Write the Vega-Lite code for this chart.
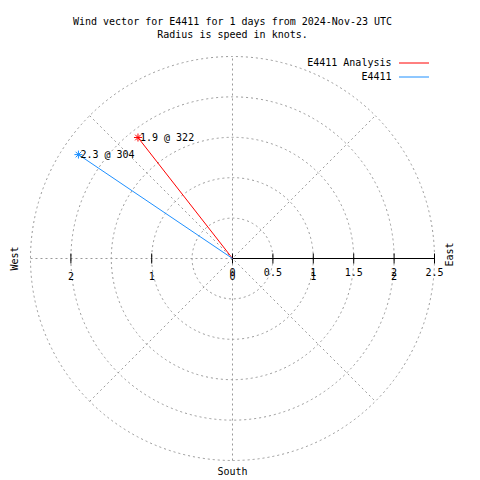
{
  "$schema": "https://vega.github.io/schema/vega-lite/v6.json",
  "width": 404,
  "height": 404,
  "autosize": {"type": "none"},
  "padding": {"left": 30.5, "top": 56.5, "right": 45.5, "bottom": 19.5},
  "background": "white",
  "config": {
    "view": {"stroke": null},
    "font": "DejaVu Sans Mono",
    "text": {"font": "DejaVu Sans Mono", "fontSize": 10, "color": "black"}
  },
  "title": {
    "text": ["Wind vector for E4411 for 1 days from 2024-Nov-23 UTC", "Radius is speed in knots."],
    "anchor": "middle",
    "frame": "group",
    "font": "DejaVu Sans Mono",
    "fontSize": 10,
    "fontWeight": "normal",
    "color": "black",
    "lineHeight": 13,
    "offset": 15
  },
  "datasets": {
    "rings": [{"r": 0.5}, {"r": 1}, {"r": 1.5}, {"r": 2}, {"r": 2.5}],
    "spokes": [
      {"xa": 0, "ya": -2.5, "xb": 0, "yb": 2.5},
      {"xa": -2.5, "ya": 0, "xb": 2.5, "yb": 0},
      {"xa": -1.7678, "ya": -1.7678, "xb": 1.7678, "yb": 1.7678},
      {"xa": -1.7678, "ya": 1.7678, "xb": 1.7678, "yb": -1.7678}
    ],
    "axisline": [{"xa": 0, "ya": 0, "xb": 2.5, "yb": 0}],
    "ticks": [{"v": -2}, {"v": -1}, {"v": 0}, {"v": 0.5}, {"v": 1}, {"v": 1.5}, {"v": 2}, {"v": 2.5}],
    "labelsA": [
      {"v": 0, "t": "0"}, {"v": 0.5, "t": "0.5"}, {"v": 1, "t": "1"},
      {"v": 1.5, "t": "1.5"}, {"v": 2, "t": "2"}, {"v": 2.5, "t": "2.5"}
    ],
    "labelsB": [
      {"v": -2, "t": "2"}, {"v": -1, "t": "1"}, {"v": 0, "t": "0"}, {"v": 1, "t": "1"}, {"v": 2, "t": "2"}
    ],
    "wind": [
      {"station": "E4411 Analysis", "speed": 1.9, "dir": 322, "u0": 0, "v0": 0, "u": -1.1698, "vv": 1.4972, "label": "1.9 @ 322"},
      {"station": "E4411", "speed": 2.3, "dir": 304, "u0": 0, "v0": 0, "u": -1.9068, "vv": 1.2861, "label": "2.3 @ 304"}
    ]
  },
  "layer": [
    {
      "data": {"name": "spokes"},
      "mark": {"type": "rule", "color": "#999999", "strokeWidth": 1, "strokeDash": [2, 3]},
      "encoding": {
        "x": {"field": "xa", "type": "quantitative", "scale": {"domain": [-2.5, 2.5], "nice": false, "zero": false}, "axis": null},
        "y": {"field": "ya", "type": "quantitative", "scale": {"domain": [-2.5, 2.5], "nice": false, "zero": false}, "axis": null},
        "x2": {"field": "xb"},
        "y2": {"field": "yb"}
      }
    },
    {
      "data": {"name": "rings"},
      "mark": {"type": "point", "shape": "circle", "filled": false, "color": "#999999", "strokeWidth": 1, "strokeDash": [2, 3], "opacity": 1},
      "encoding": {
        "x": {"datum": 0, "type": "quantitative"},
        "y": {"datum": 0, "type": "quantitative"},
        "size": {"field": "r", "type": "quantitative", "scale": {"type": "pow", "exponent": 2, "domain": [0, 2.5], "range": [0, 163216]}, "legend": null}
      }
    },
    {
      "data": {"name": "axisline"},
      "mark": {"type": "rule", "color": "black", "strokeWidth": 1},
      "encoding": {
        "x": {"field": "xa", "type": "quantitative"},
        "y": {"field": "ya", "type": "quantitative"},
        "x2": {"field": "xb"},
        "y2": {"field": "yb"}
      }
    },
    {
      "data": {"name": "ticks"},
      "mark": {"type": "tick", "orient": "vertical", "size": 10, "thickness": 1, "color": "black", "opacity": 1},
      "encoding": {
        "x": {"field": "v", "type": "quantitative"},
        "y": {"datum": 0, "type": "quantitative"}
      }
    },
    {
      "data": {"name": "labelsA"},
      "mark": {"type": "text", "align": "center", "baseline": "middle", "dy": 14},
      "encoding": {
        "x": {"field": "v", "type": "quantitative"},
        "y": {"datum": 0, "type": "quantitative"},
        "text": {"field": "t"}
      }
    },
    {
      "data": {"name": "labelsB"},
      "mark": {"type": "text", "align": "center", "baseline": "middle", "dy": 18},
      "encoding": {
        "x": {"field": "v", "type": "quantitative"},
        "y": {"datum": 0, "type": "quantitative"},
        "text": {"field": "t"}
      }
    },
    {
      "data": {"name": "wind"},
      "mark": {"type": "rule", "strokeWidth": 1},
      "encoding": {
        "x": {"field": "u0", "type": "quantitative"},
        "y": {"field": "v0", "type": "quantitative"},
        "x2": {"field": "u"},
        "y2": {"field": "vv"},
        "color": {
          "field": "station", "type": "nominal",
          "scale": {"domain": ["E4411 Analysis", "E4411"], "range": ["#ff0000", "#1e90ff"]},
          "legend": {
            "orient": "none", "legendX": 378, "legendY": 1, "title": null,
            "symbolType": "M-3,0L3,0", "symbolSize": 100, "symbolStrokeWidth": 1,
            "labelAlign": "right", "labelOffset": -28, "labelFont": "DejaVu Sans Mono",
            "labelFontSize": 10, "labelColor": "black", "rowPadding": 3, "padding": 0
          }
        }
      }
    },
    {
      "data": {"name": "wind"},
      "mark": {"type": "point", "shape": "M-1,0L1,0M0,-1L0,1M-0.7,-0.7L0.7,0.7M-0.7,0.7L0.7,-0.7", "filled": false, "size": 64, "strokeWidth": 1, "opacity": 1},
      "encoding": {
        "x": {"field": "u", "type": "quantitative"},
        "y": {"field": "vv", "type": "quantitative"},
        "color": {
          "field": "station", "type": "nominal",
          "scale": {"domain": ["E4411 Analysis", "E4411"], "range": ["#ff0000", "#1e90ff"]},
          "legend": {
            "orient": "none", "legendX": 378, "legendY": 1, "title": null,
            "symbolType": "M-3,0L3,0", "symbolSize": 100, "symbolStrokeWidth": 1,
            "labelAlign": "right", "labelOffset": -28, "labelFont": "DejaVu Sans Mono",
            "labelFontSize": 10, "labelColor": "black", "rowPadding": 3, "padding": 0
          }
        }
      }
    },
    {
      "data": {"name": "wind"},
      "mark": {"type": "text", "align": "left", "baseline": "middle", "dx": 2},
      "encoding": {
        "x": {"field": "u", "type": "quantitative"},
        "y": {"field": "vv", "type": "quantitative"},
        "text": {"field": "label"}
      }
    },
    {
      "data": {"values": [{"name": "West"}]},
      "mark": {"type": "text", "align": "center", "baseline": "middle", "angle": 270},
      "encoding": {
        "x": {"datum": -2.69, "type": "quantitative"},
        "y": {"datum": 0, "type": "quantitative"},
        "text": {"field": "name"}
      }
    },
    {
      "data": {"values": [{"name": "East"}]},
      "mark": {"type": "text", "align": "center", "baseline": "middle", "angle": 270},
      "encoding": {
        "x": {"datum": 2.69, "type": "quantitative"},
        "y": {"datum": 0.05, "type": "quantitative"},
        "text": {"field": "name"}
      }
    },
    {
      "data": {"values": [{"name": "South"}]},
      "mark": {"type": "text", "align": "center", "baseline": "middle", "dy": 11},
      "encoding": {
        "x": {"datum": 0, "type": "quantitative"},
        "y": {"datum": -2.5, "type": "quantitative"},
        "text": {"field": "name"}
      }
    }
  ]
}
